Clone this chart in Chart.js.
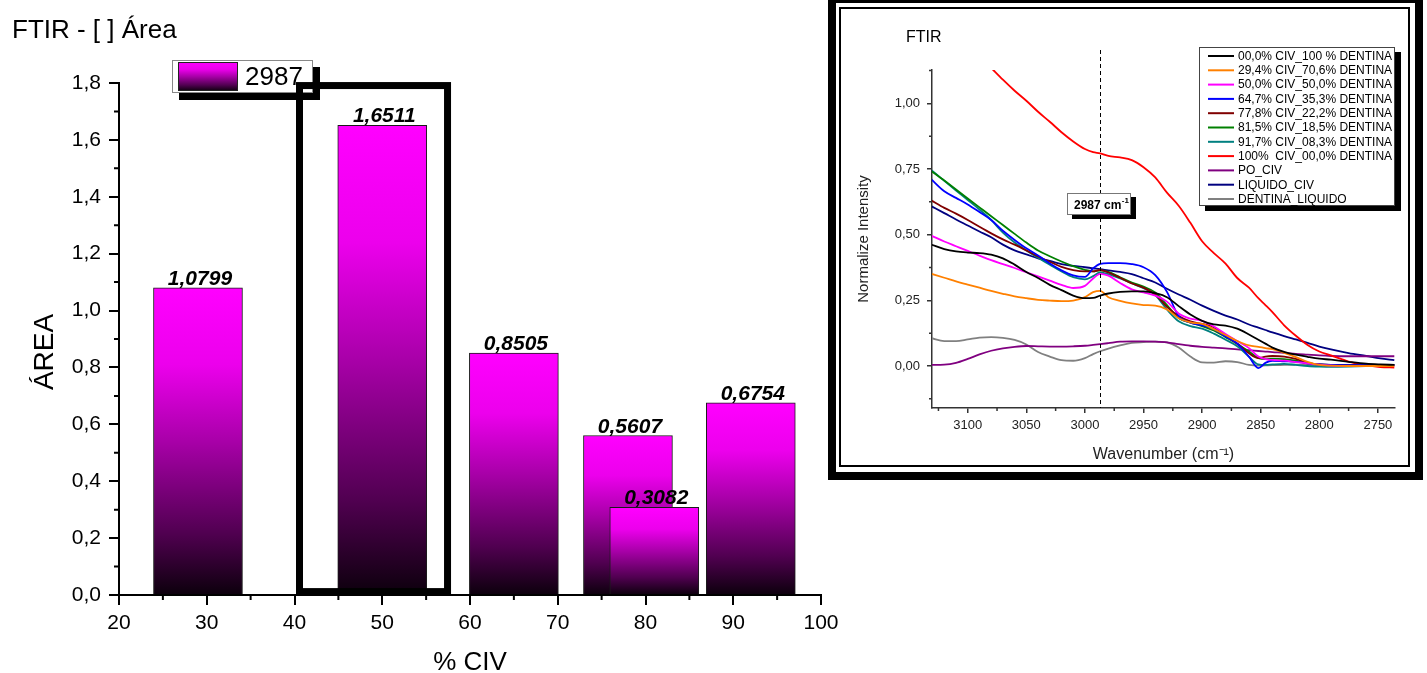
<!DOCTYPE html>
<html lang="pt">
<head>
  <meta charset="UTF-8" />
  <title>FTIR - [ ] Área</title>
  <script src="https://cdn.jsdelivr.net/npm/chart.js@4.4.1/dist/chart.umd.min.js"></script>
  <style>
    html, body { margin: 0; padding: 0; background: #fff; }
    body { width: 1427px; height: 673px; position: relative; overflow: hidden; }
    #barChart  { position: absolute; left: 0; top: 0; }
    #ftirChart { position: absolute; left: 828px; top: 0; }
  </style>
</head>
<body>
  <canvas id="barChart" width="850" height="690"></canvas>
  <canvas id="ftirChart" width="599" height="483"></canvas>

  <script>
  // --- área do pico 2987 cm-1 x % CIV ---
  const civPct    = [29, 50, 65, 78, 81, 92];
  const areaVals  = [1.0799, 1.6511, 0.8505, 0.5607, 0.3082, 0.6754];
  const civTicks  = [20, 30, 40, 50, 60, 70, 80, 90, 100];
  const civMinor  = [25, 35, 45, 55, 65, 75, 85, 95];
  const areaTicks = [0, 0.2, 0.4, 0.6, 0.8, 1.0, 1.2, 1.4, 1.6, 1.8];
  const areaMinor = [0.1, 0.3, 0.5, 0.7, 0.9, 1.1, 1.3, 1.5, 1.7];
  const hlX = [40.57, 57.44];      // moldura em volta da barra de 50 %
  const hlY = [0.012, 1.791];

  // --- espectros FTIR (normalizados) ---
  const wavenumbers = [3131, 3120, 3110, 3100, 3090, 3080, 3070, 3060, 3050, 3040, 3030, 3020, 3010, 3000, 2993, 2987, 2980, 2970, 2960, 2950,
                       2940, 2930, 2920, 2910, 2900, 2890, 2880, 2870, 2860, 2852, 2846, 2840, 2830, 2820, 2810, 2800, 2790, 2775, 2760, 2748, 2736];
  const civ000 = [0.462, 0.445, 0.436, 0.432, 0.430, 0.424, 0.410, 0.386, 0.358, 0.335, 0.309, 0.289, 0.268, 0.258, 0.259, 0.268, 0.276, 0.282, 0.284, 0.284,
                  0.277, 0.262, 0.228, 0.196, 0.172, 0.158, 0.154, 0.142, 0.120, 0.100, 0.085, 0.070, 0.054, 0.043, 0.035, 0.028, 0.024, 0.016, 0.009, 0.006, 0.004];
  const civ294 = [0.351, 0.336, 0.322, 0.310, 0.298, 0.286, 0.275, 0.265, 0.258, 0.252, 0.249, 0.247, 0.249, 0.262, 0.281, 0.286, 0.262, 0.248, 0.238, 0.232,
                  0.230, 0.215, 0.182, 0.166, 0.160, 0.140, 0.118, 0.095, 0.078, 0.073, 0.068, 0.064, 0.050, 0.034, 0.016, 0.004, 0.001, 0.000, 0.000, 0.000, 0.000];
  const civ500 = [0.496, 0.474, 0.456, 0.438, 0.420, 0.403, 0.388, 0.373, 0.357, 0.341, 0.325, 0.309, 0.297, 0.305, 0.333, 0.351, 0.344, 0.316, 0.292, 0.280,
                  0.268, 0.245, 0.200, 0.180, 0.172, 0.150, 0.122, 0.095, 0.068, 0.036, 0.026, 0.023, 0.020, 0.015, 0.010, 0.005, 0.001, 0.000, 0.000, 0.000, 0.000];
  const civ647 = [0.710, 0.665, 0.640, 0.615, 0.586, 0.556, 0.515, 0.480, 0.448, 0.421, 0.390, 0.364, 0.345, 0.339, 0.372, 0.389, 0.392, 0.392, 0.388, 0.376,
                  0.346, 0.282, 0.190, 0.165, 0.155, 0.140, 0.112, 0.085, 0.035, -0.008, 0.012, 0.020, 0.018, 0.016, 0.010, 0.006, 0.004, 0.003, 0.003, 0.003, 0.003];
  const civ778 = [0.630, 0.602, 0.580, 0.556, 0.530, 0.505, 0.482, 0.462, 0.440, 0.417, 0.397, 0.377, 0.365, 0.360, 0.360, 0.366, 0.356, 0.336, 0.314, 0.298,
                  0.272, 0.225, 0.190, 0.170, 0.160, 0.148, 0.115, 0.085, 0.048, 0.030, 0.036, 0.038, 0.036, 0.027, 0.012, 0.006, 0.004, 0.003, 0.003, 0.003, 0.003];
  const civ815 = [0.742, 0.706, 0.672, 0.638, 0.604, 0.570, 0.537, 0.503, 0.470, 0.440, 0.418, 0.398, 0.380, 0.366, 0.360, 0.364, 0.358, 0.338, 0.318, 0.302,
                  0.280, 0.232, 0.183, 0.165, 0.152, 0.135, 0.110, 0.085, 0.055, 0.030, 0.026, 0.028, 0.026, 0.020, 0.010, 0.006, 0.004, 0.003, 0.003, 0.003, 0.003];
  const civ917 = [0.746, 0.705, 0.668, 0.632, 0.596, 0.556, 0.508, 0.470, 0.440, 0.412, 0.386, 0.360, 0.338, 0.330, 0.342, 0.356, 0.350, 0.333, 0.315, 0.296,
                  0.270, 0.215, 0.170, 0.152, 0.142, 0.123, 0.100, 0.075, 0.035, 0.006, 0.004, 0.006, 0.008, 0.004, 0.000, -0.002, -0.003, -0.002, 0.000, 0.002, 0.004];
  const civ100 = [1.360, 1.315, 1.270, 1.225, 1.180, 1.135, 1.090, 1.048, 1.010, 0.968, 0.930, 0.890, 0.855, 0.826, 0.814, 0.810, 0.800, 0.794, 0.784, 0.757,
                  0.718, 0.660, 0.610, 0.545, 0.475, 0.430, 0.390, 0.335, 0.298, 0.258, 0.232, 0.205, 0.155, 0.115, 0.080, 0.055, 0.040, 0.017, 0.002, -0.004, -0.006];
  const poCiv  = [0.004, 0.005, 0.012, 0.027, 0.044, 0.058, 0.067, 0.073, 0.076, 0.075, 0.074, 0.074, 0.075, 0.077, 0.080, 0.083, 0.087, 0.093, 0.094, 0.094,
                  0.093, 0.090, 0.083, 0.077, 0.073, 0.070, 0.067, 0.063, 0.060, 0.057, 0.055, 0.053, 0.050, 0.046, 0.043, 0.040, 0.038, 0.037, 0.037, 0.037, 0.037];
  const liqCiv = [0.608, 0.582, 0.558, 0.535, 0.512, 0.490, 0.462, 0.440, 0.425, 0.410, 0.400, 0.388, 0.381, 0.376, 0.372, 0.369, 0.364, 0.358, 0.350, 0.334,
                  0.318, 0.294, 0.272, 0.252, 0.230, 0.210, 0.192, 0.177, 0.158, 0.146, 0.137, 0.128, 0.114, 0.101, 0.088, 0.074, 0.063, 0.049, 0.038, 0.029, 0.022];
  const dentLiq = [0.106, 0.095, 0.095, 0.101, 0.108, 0.110, 0.107, 0.099, 0.082, 0.053, 0.036, 0.022, 0.020, 0.030, 0.045, 0.056, 0.066, 0.078, 0.088, 0.091,
                   0.093, 0.090, 0.070, 0.036, 0.014, 0.013, 0.018, 0.015, 0.004, 0.001, 0.002, 0.003, 0.004, 0.005, 0.004, 0.003, 0.003, 0.003, 0.003, 0.003, 0.003];

  const ftirSeries = [civ000, civ294, civ500, civ647, civ778, civ815, civ917, civ100, poCiv, liqCiv, dentLiq];
  const ftirNames  = ['00,0% CIV_100 % DENTINA', '29,4% CIV_70,6% DENTINA', '50,0% CIV_50,0% DENTINA', '64,7% CIV_35,3% DENTINA',
                      '77,8% CIV_22,2% DENTINA', '81,5% CIV_18,5% DENTINA', '91,7% CIV_08,3% DENTINA', '100%  CIV_00,0% DENTINA',
                      'PO_CIV', 'LIQUIDO_CIV', 'DENTINA_LIQUIDO'];
  const ftirColors = ['#000000', '#ff8000', '#ff00ff', '#0000ff', '#800000', '#008000', '#008080', '#ff0000', '#800080', '#000080', '#808080'];
  const ftirXTicks = [3100, 3050, 3000, 2950, 2900, 2850, 2800, 2750];
  const ftirXMinor = [3125, 3075, 3025, 2975, 2925, 2875, 2825, 2775];
  const ftirYTicks = [0, 0.25, 0.5, 0.75, 1.0];
  const ftirYMinor = [-0.125, 0.125, 0.375, 0.625, 0.875, 1.125];
  const markWn = 2987;

  const FONT = '"Liberation Sans", Arial, Helvetica, sans-serif';
  Chart.defaults.font.family = FONT;
  Chart.defaults.color = '#000';
  Chart.defaults.animation = false;

  const fixSize = (size) => (scale) => {
    if (scale.isHorizontal()) scale.height = size; else scale.width = size;
    scale.paddingLeft = scale.paddingRight = scale.paddingTop = scale.paddingBottom = 0;
  };
  const comma = (v, d) => v.toFixed(d).replace('.', ',');

  function barGradient(ctx, top, bottom) {
    const g = ctx.createLinearGradient(0, top, 0, bottom);
    g.addColorStop(0, '#ff00ff');
    g.addColorStop(0.25, '#ec00ec');
    g.addColorStop(0.5, '#a800a8');
    g.addColorStop(0.8, '#500050');
    g.addColorStop(1, '#0c000c');
    return g;
  }

  // small ticks between the labelled ones
  const minorTicks = {
    id: 'minorTicks',
    afterDraw(chart, args, o) {
      const { ctx, chartArea: a, scales } = chart;
      ctx.save();
      ctx.strokeStyle = o.color; ctx.lineWidth = o.width;
      ctx.beginPath();
      o.x.forEach(v => { const p = scales.x.getPixelForValue(v); ctx.moveTo(p, a.bottom); ctx.lineTo(p, a.bottom + o.len); });
      o.y.forEach(v => { const p = scales.y.getPixelForValue(v); ctx.moveTo(a.left, p); ctx.lineTo(a.left - o.len, p); });
      ctx.stroke();
      ctx.restore();
    }
  };

  const barDecor = {
    id: 'barDecor',
    afterDatasetsDraw(chart) {
      const { ctx, scales: { x, y } } = chart;
      ctx.save();
      ctx.fillStyle = '#000';
      ctx.font = '26px ' + FONT;
      ctx.textAlign = 'left'; ctx.textBaseline = 'middle';
      ctx.fillText('FTIR - [ ] Área', 12, 31);

      // y axis title, placed like the original (a little below the middle)
      ctx.save();
      ctx.translate(53, 352);
      ctx.rotate(-Math.PI / 2);
      ctx.font = '28px ' + FONT;
      ctx.textAlign = 'center'; ctx.textBaseline = 'alphabetic';
      ctx.fillText('ÁREA', 0, 0);
      ctx.restore();

      ctx.font = 'italic bold 21px ' + FONT;
      ctx.textAlign = 'center'; ctx.textBaseline = 'alphabetic';
      civPct.forEach((c, i) => {
        ctx.fillText(comma(areaVals[i], 4), x.getPixelForValue(c) + 2, y.getPixelForValue(areaVals[i]) - 3);
      });

      // legend with drop shadow
      ctx.fillStyle = '#000'; ctx.fillRect(179, 67, 141, 33);
      ctx.fillStyle = '#fff'; ctx.fillRect(172, 60, 141, 33);
      ctx.strokeStyle = '#888'; ctx.lineWidth = 1; ctx.strokeRect(172.5, 60.5, 140, 32);
      ctx.fillStyle = barGradient(ctx, 62, 91); ctx.fillRect(178, 62, 60, 29);
      ctx.strokeStyle = '#222'; ctx.strokeRect(178.5, 62.5, 59, 28);
      ctx.fillStyle = '#000'; ctx.font = '26px ' + FONT;
      ctx.textAlign = 'left'; ctx.textBaseline = 'middle';
      ctx.fillText(chart.data.datasets[0].label, 245, 78);

      // highlight frame
      const x0 = x.getPixelForValue(hlX[0]), x1 = x.getPixelForValue(hlX[1]);
      const y0 = y.getPixelForValue(hlY[1]), y1 = y.getPixelForValue(hlY[0]);
      ctx.lineWidth = 7; ctx.strokeStyle = '#000';
      ctx.strokeRect(x0, y0, x1 - x0, y1 - y0);
      ctx.restore();
    }
  };

  new Chart(document.getElementById('barChart'), {
    type: 'bar',
    data: {
      datasets: [{
        label: '2987',
        data: civPct.map((c, i) => ({ x: c, y: areaVals[i] })),
        backgroundColor: (c) => {
          const ch = c.chart;
          if (c.type !== 'data' || !ch.chartArea) return '#ff00ff';
          const ys = ch.scales.y;
          return barGradient(ch.ctx, ys.getPixelForValue(areaVals[c.dataIndex]), ys.getPixelForValue(0));
        },
        borderColor: '#1a1a1a',
        borderWidth: 1,
        barThickness: 89
      }]
    },
    options: {
      responsive: false,
      devicePixelRatio: 1,
      layout: { padding: { left: 0, top: 83, right: 29, bottom: 0 } },
      plugins: { legend: { display: false }, tooltip: { enabled: false },
                 minorTicks: { x: civMinor, y: areaMinor, len: 5, color: '#000', width: 2 } },
      scales: {
        x: {
          type: 'linear', min: 20, max: 100, offset: false,
          afterBuildTicks: s => { s.ticks = civTicks.map(v => ({ value: v })); },
          afterFit: fixSize(95),
          ticks: { font: { size: 21 }, color: '#000', padding: 6, maxRotation: 0 },
          grid: { offset: false, drawOnChartArea: false, tickLength: 10, color: '#000', lineWidth: 2 },
          border: { color: '#000', width: 2 },
          title: { display: true, text: '% CIV', font: { size: 26 }, color: '#000', padding: { top: 0, bottom: 12 } }
        },
        y: {
          min: 0, max: 1.8,
          afterBuildTicks: s => { s.ticks = areaTicks.map(v => ({ value: v })); },
          afterFit: fixSize(119),
          ticks: { font: { size: 21 }, color: '#000', padding: 8, callback: v => comma(v, 1) },
          grid: { drawOnChartArea: false, tickLength: 10, color: '#000', lineWidth: 2 },
          border: { color: '#000', width: 2 }
        }
      }
    },
    plugins: [minorTicks, barDecor]
  });

  // ---- inset FTIR ----
  const ftirDecor = {
    id: 'ftirDecor',
    beforeDraw(chart) {
      const { ctx, width, height } = chart;
      ctx.save(); ctx.fillStyle = '#fff'; ctx.fillRect(0, 0, width, height); ctx.restore();
    },
    afterDatasetsDraw(chart) {
      const { ctx, chartArea: a, scales: { x } } = chart;
      ctx.save();
      // marker line
      const px = Math.round(x.getPixelForValue(markWn)) + 0.5;
      ctx.setLineDash([4, 3]); ctx.lineWidth = 1; ctx.strokeStyle = '#000';
      ctx.beginPath(); ctx.moveTo(px, 50); ctx.lineTo(px, a.bottom); ctx.stroke();
      ctx.setLineDash([]);

      // marker label
      ctx.fillStyle = '#000'; ctx.fillRect(244, 197, 64, 22);
      ctx.fillStyle = '#fff'; ctx.fillRect(239, 193, 64, 22);
      ctx.strokeStyle = '#777'; ctx.strokeRect(239.5, 193.5, 63, 21);
      ctx.fillStyle = '#000'; ctx.textAlign = 'left'; ctx.textBaseline = 'alphabetic';
      ctx.font = 'bold 12px ' + FONT;
      const t = markWn + ' cm';
      ctx.fillText(t, 246, 209);
      const tw = ctx.measureText(t).width;
      ctx.font = 'bold 8px ' + FONT;
      ctx.fillText('-1', 246 + tw + 0.5, 203);

      // legend
      ctx.fillStyle = '#000'; ctx.fillRect(377, 52, 196, 159);
      ctx.fillStyle = '#fff'; ctx.fillRect(371, 47, 196, 159);
      ctx.strokeStyle = '#444'; ctx.lineWidth = 1; ctx.strokeRect(371.5, 47.5, 195, 158);
      ctx.font = '12px ' + FONT; ctx.textBaseline = 'middle';
      ftirNames.forEach((n, i) => {
        const yy = 56 + i * 14.3;
        ctx.strokeStyle = ftirColors[i]; ctx.lineWidth = 2;
        ctx.beginPath(); ctx.moveTo(380, yy); ctx.lineTo(406, yy); ctx.stroke();
        ctx.fillStyle = '#000'; ctx.fillText(n, 410, yy + 0.5);
      });

      // title
      ctx.font = '16px ' + FONT; ctx.fillStyle = '#000';
      ctx.fillText('FTIR', 78, 38);

      // double frame
      ctx.strokeStyle = '#000';
      ctx.lineWidth = 8; ctx.strokeRect(4, -1, 587, 477);
      ctx.lineWidth = 2; ctx.strokeRect(12, 8, 569, 458);
      ctx.restore();
    }
  };

  new Chart(document.getElementById('ftirChart'), {
    type: 'line',
    data: {
      datasets: ftirSeries.map((s, i) => ({
        label: ftirNames[i],
        data: wavenumbers.map((w, k) => ({ x: w, y: s[k] })),
        borderColor: ftirColors[i],
        borderWidth: 1.8,
        pointRadius: 0,
        fill: false,
        cubicInterpolationMode: 'monotone'
      }))
    },
    options: {
      responsive: false,
      devicePixelRatio: 1,
      layout: { padding: { left: 14, top: 70, right: 32, bottom: 10 } },
      plugins: { legend: { display: false }, tooltip: { enabled: false },
                 minorTicks: { x: ftirXMinor, y: ftirYMinor, len: 3, color: '#333', width: 1.5 } },
      scales: {
        x: {
          type: 'linear', reverse: true, min: 2735.4, max: 3130.5,
          afterBuildTicks: s => { s.ticks = ftirXTicks.map(v => ({ value: v })); },
          afterFit: fixSize(65),
          ticks: { font: { size: 13 }, color: '#222', padding: 5, maxRotation: 0, callback: v => String(v) },
          grid: { drawOnChartArea: false, tickLength: 5, color: '#333', lineWidth: 1.5 },
          border: { color: '#333', width: 1.5 },
          title: { display: true, text: 'Wavenumber (cm⁻¹)', font: { size: 16 }, color: '#222', padding: { top: 0, bottom: 9 } }
        },
        y: {
          min: -0.16, max: 1.127,
          afterBuildTicks: s => { s.ticks = ftirYTicks.map(v => ({ value: v })); },
          afterFit: fixSize(90),
          ticks: { font: { size: 13 }, color: '#222', padding: 7, callback: v => comma(v, 2) },
          grid: { drawOnChartArea: false, tickLength: 5, color: '#333', lineWidth: 1.5 },
          border: { color: '#333', width: 1.5 },
          title: { display: true, text: 'Normalize Intensity', font: { size: 15 }, color: '#222', padding: { top: 13, bottom: 0 } }
        }
      }
    },
    plugins: [minorTicks, ftirDecor]
  });
  </script>
</body>
</html>
